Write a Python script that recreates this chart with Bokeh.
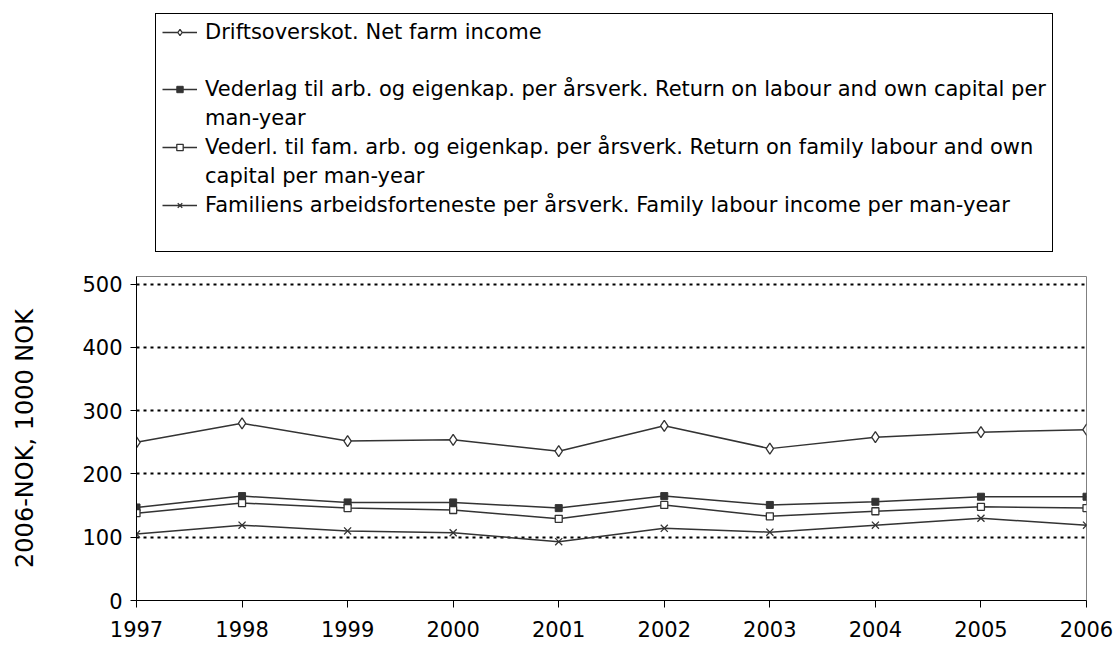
from bokeh.plotting import figure
from bokeh.layouts import column
from bokeh.models import Legend, LegendItem, Range1d, FixedTicker
from bokeh.embed import file_html
from bokeh.resources import INLINE

years = [1997, 1998, 1999, 2000, 2001, 2002, 2003, 2004, 2005, 2006]
net_farm_income = [250, 280, 252, 254, 236, 276, 240, 258, 266, 270]
return_labour_capital = [147, 165, 155, 155, 146, 165, 151, 156, 164, 164]
return_family_labour = [138, 154, 146, 143, 129, 151, 133, 141, 148, 146]
family_labour_income = [105, 119, 110, 107, 93, 114, 108, 119, 130, 119]
y_ticks = [0, 100, 200, 300, 400, 500]

# legend text, line by line (series index for the first line of each entry)
legend_lines = [
    ("Driftsoverskot. Net farm income", 0),
    (" ", None),
    ("Vederlag til arb. og eigenkap. per årsverk. Return on labour and own capital per", 1),
    ("man-year", None),
    ("Vederl. til fam. arb. og eigenkap. per årsverk. Return on family labour and own", 2),
    ("capital per man-year", None),
    ("Familiens arbeidsforteneste per årsverk. Family labour income per man-year", 3),
    (" ", None),
]
y_title = "2006-NOK, 1000 NOK"

FONT = "DejaVu Sans"
LINE = "#333333"

styles = [
    dict(marker="diamond", size=11, fill_color="white", line_width=1.3),
    dict(marker="square", size=7, fill_color=LINE, line_width=1),
    dict(marker="square", size=7, fill_color="white", line_width=1.3),
    dict(marker="x", size=10, fill_color=None, line_width=1.3),
]
series = [net_farm_income, return_labour_capital, return_family_labour,
          family_labour_income]

LEG_H = 262

# ---- main chart ----
p = figure(width=1115, height=648 - LEG_H, output_backend="svg",
           toolbar_location=None,
           x_range=Range1d(1997, 2006), y_range=Range1d(0, 512),
           min_border_left=136, min_border_right=29, min_border_top=276 - LEG_H,
           min_border_bottom=48)

p.outline_line_color = "#808080"
p.outline_line_width = 1
p.background_fill_color = "white"
p.border_fill_color = "white"

p.xaxis.ticker = FixedTicker(ticks=years)
p.yaxis.ticker = FixedTicker(ticks=y_ticks)
for ax in (p.xaxis[0], p.yaxis[0]):
    ax.axis_line_color = "black"
    ax.axis_line_width = 1
    ax.major_tick_line_color = "black"
    ax.major_tick_in = 0
    ax.minor_tick_line_color = None
    ax.major_label_text_font = FONT
    ax.major_label_text_font_size = "21px"
    ax.major_label_text_color = "black"
p.xaxis.major_tick_out = 7
p.yaxis.major_tick_out = 6
p.xaxis.major_label_standoff = 13
p.yaxis.major_label_standoff = 8
p.yaxis.axis_label = y_title
p.yaxis.axis_label_text_font = FONT
p.yaxis.axis_label_text_font_size = "24px"
p.yaxis.axis_label_text_font_style = "normal"
p.yaxis.axis_label_text_color = "black"
p.yaxis.axis_label_standoff = 40

p.xgrid.visible = False
p.ygrid.grid_line_color = "black"
p.ygrid.grid_line_width = 2
p.ygrid.grid_line_dash = "3 4"

for vals, st in zip(series, styles):
    p.line(years, vals, line_color=LINE, line_width=1.5)
    p.scatter(years, vals, marker=st["marker"], size=st["size"],
              line_color=LINE, fill_color=st["fill_color"],
              line_width=st["line_width"])

# ---- legend panel (above the chart) ----
# the series are drawn again here only to provide legend keys; they fall
# outside this panel's (0..1) ranges and so are not visible.
lf = figure(width=1115, height=LEG_H, output_backend="svg", toolbar_location=None,
            x_range=Range1d(0, 1), y_range=Range1d(0, 1),
            x_axis_type=None, y_axis_type=None,
            min_border_left=0, min_border_right=0, min_border_top=0,
            min_border_bottom=0)
lf.outline_line_color = None
lf.grid.visible = False
lf.background_fill_color = "white"
lf.border_fill_color = "white"

keys = []
for vals, st in zip(series, styles):
    lr = lf.line(years, vals, line_color=LINE, line_width=1.5)
    sr = lf.scatter(years, vals, marker=st["marker"], size=st["size"],
                    line_color=LINE, fill_color=st["fill_color"],
                    line_width=st["line_width"])
    keys.append([lr, sr])

items = [LegendItem(label=txt, renderers=(keys[idx] if idx is not None else []))
         for txt, idx in legend_lines]

legend = Legend(
    items=items,
    location=(19, 10), orientation="vertical",
    border_line_color="black", border_line_width=1, border_line_alpha=1,
    background_fill_color="white", background_fill_alpha=1,
    label_text_font=FONT, label_text_font_size="21px", label_text_color="black",
    glyph_width=35, glyph_height=16, label_height=23, label_standoff=8,
    spacing=5, padding=6, margin=0,
)
lf.add_layout(legend, "center")

layout = column(lf, p, spacing=0)
open("out.html", "w").write(file_html(layout, INLINE))
